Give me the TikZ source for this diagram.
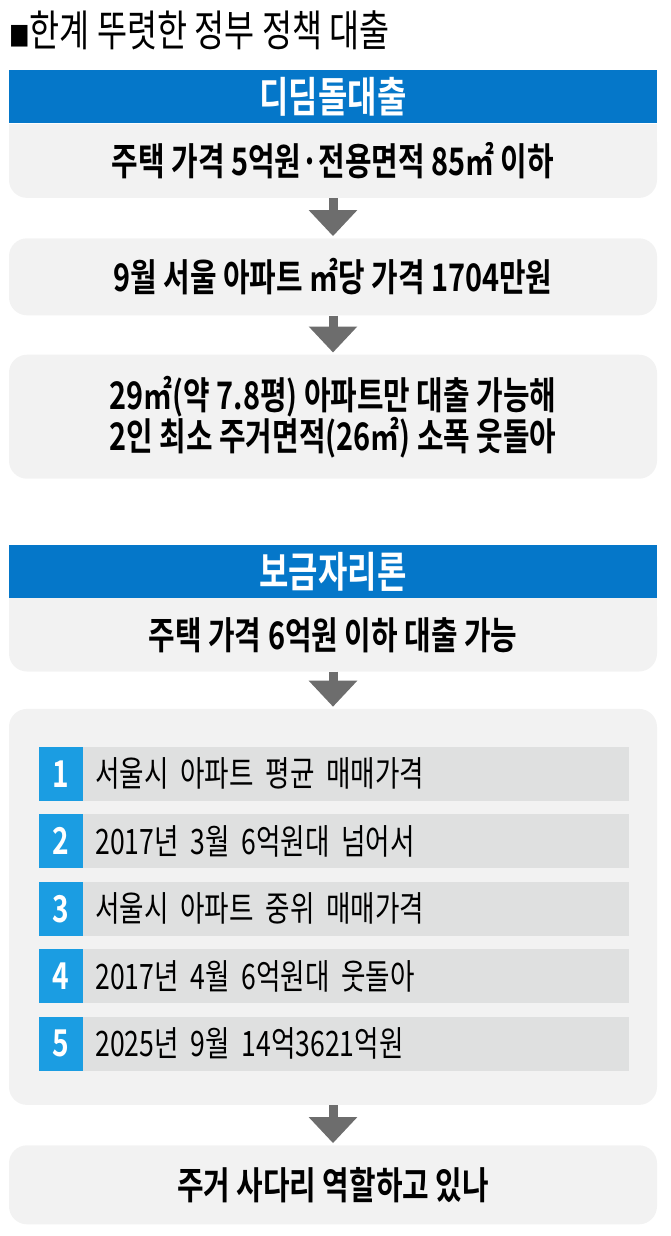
\documentclass[tikz,border=0pt]{standalone}
\usepackage{fontspec}
\setmainfont{Noto Sans CJK KR}[FakeStretch=0.76,BoldFont={Noto Sans CJK KR Bold}]
\usepackage{tikz}
\usetikzlibrary{positioning,arrows.meta}
\definecolor{headblue}{HTML}{0577C9}
\definecolor{numblue}{HTML}{1B9DE2}
\definecolor{boxgray}{HTML}{F2F2F2}
\definecolor{stripgray}{HTML}{DFE0E0}
\definecolor{arrowgray}{HTML}{6D6D6D}
\tikzset{
  head/.style={fill=headblue,text=white,font=\bfseries\fontsize{42}{42}\selectfont,minimum width=648pt,minimum height=53pt,inner sep=0pt},
  card/.style={fill=boxgray,rounded corners=18pt,minimum width=648pt,align=center,inner sep=0pt,font=\bfseries\fontsize{38}{41}\selectfont},
  num/.style={fill=numblue,text=white,font=\bfseries\fontsize{37}{37}\selectfont,minimum width=44pt,minimum height=54pt,inner sep=0pt},
  strip/.style={fill=stripgray,minimum height=54pt,text width=522pt,inner xsep=12pt,inner ysep=0pt,align=left,font=\fontsize{35}{35}\selectfont},
  arr/.style={-{Triangle[width=47pt,length=26pt]},line width=9pt,draw=arrowgray,shorten >=2pt}
}

\begin{document}
\begin{tikzpicture}[x=1pt,y=-1pt]
\useasboundingbox (0,0) rectangle (671,1236);
\node[anchor=west,inner sep=0pt,font=\fontsize{43}{43}\selectfont] (title) at (9,30) {{\fontsize{27}{27}\selectfont■}한계 뚜렷한 정부 정책 대출};

\node[head] (head1) at (333,97) {디딤돌대출};
\node[card,minimum height=74pt,below=0pt of head1] (box1) {주택 가격 5억원·전용면적 85㎡ 이하};
\fill[boxgray] (box1.north west) rectangle ([yshift=-18pt]box1.north east);
\node[card,minimum height=77pt,below=40pt of box1] (box2) {9월 서울 아파트 ㎡당 가격 1704만원};
\node[card,minimum height=124pt,below=39pt of box2] (box3) {29㎡(약 7.8평) 아파트만 대출 가능해\\2인 최소 주거면적(26㎡) 소폭 웃돌아};

\node[head,below=66pt of box3] (head2) {보금자리론};
\node[card,minimum height=73pt,below=0pt of head2] (box4) {주택 가격 6억원 이하 대출 가능};
\fill[boxgray] (box4.north west) rectangle ([yshift=-18pt]box4.north east);
\node[card,minimum height=396pt,below=37pt of box4] (box5) {};

\node[num,anchor=north west] (num1) at ([xshift=30pt,yshift=-38pt]box5.north west) {1};
\node[strip,right=0pt of num1] (item1) {서울시 아파트 평균 매매가격};
\node[num,below=13pt of num1] (num2) {2};
\node[strip,right=0pt of num2] (item2) {2017년 3월 6억원대 넘어서};
\node[num,below=13pt of num2] (num3) {3};
\node[strip,right=0pt of num3] (item3) {서울시 아파트 중위 매매가격};
\node[num,below=13pt of num3] (num4) {4};
\node[strip,right=0pt of num4] (item4) {2017년 4월 6억원대 웃돌아};
\node[num,below=13pt of num4] (num5) {5};
\node[strip,right=0pt of num5] (item5) {2025년 9월 14억3621억원};

\node[card,minimum height=79pt,below=40pt of box5] (box6) {주거 사다리 역할하고 있나};

\draw[arr] (box1) -- (box2);
\draw[arr] (box2) -- (box3);
\draw[arr] (box4) -- (box5);
\draw[arr] (box5) -- (box6);
\end{tikzpicture}
\end{document}
